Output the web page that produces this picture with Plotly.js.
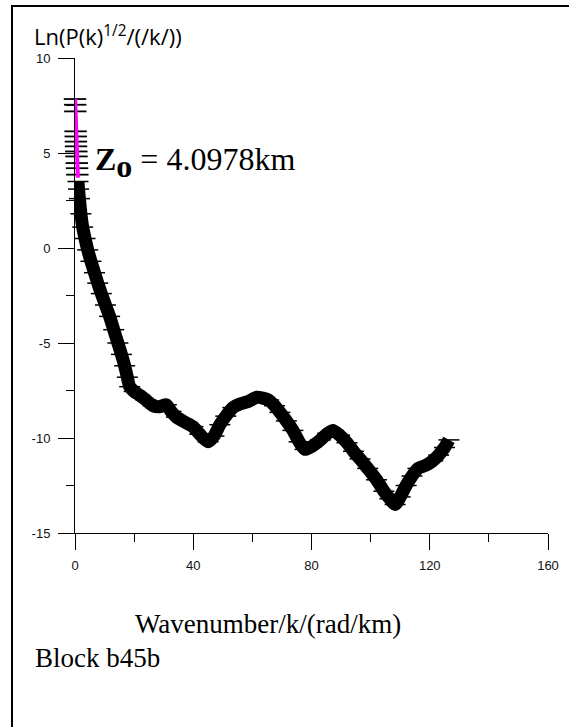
<!DOCTYPE html>
<html>
<head>
<meta charset="utf-8">
<script src="https://cdn.plot.ly/plotly-3.0.1.min.js"></script>
<style>html,body{margin:0;padding:0;background:#fff;}#chart{width:569px;height:727px;}</style>
</head>
<body>
<div id="chart"></div>
<script>
// Sparse points near k = 0 (drawn as horizontal dashes)
const kSparse = [0.0, 0.05, 0.1, 0.2, 0.25, 0.3, 0.35, 0.45, 0.5, 0.6, 0.7, 0.8];
const lnSparse = [7.84, 7.54, 7.19, 6.14, 5.87, 5.6, 5.35, 5.08, 4.82, 4.47, 4.2, 3.86];

// Main spectrum curve (wavenumber k, ln(P(k)^1/2/|k|))
const kMain = [1.0, 1.2, 1.5, 2.0, 2.6, 3.4, 4.3, 5.4, 6.6, 7.7, 8.9, 10.3, 11.7, 13.1, 14.5, 15.7, 16.8, 17.7, 18.5,
  20.0, 21.9, 24.0, 26.4, 28.5, 30.9, 32.5, 34.3, 37.0, 39.9, 42.2, 45.0, 47.0, 49.0, 51.0, 53.4, 56.0, 59.0, 61.5,
  63.5, 65.5, 67.5, 69.3, 71.5, 73.7, 75.8, 77.8, 80.0, 83.0, 85.5, 87.3, 89.5, 92.0, 94.2, 96.4, 99.0, 102.0,
  104.5, 106.5, 108.3, 110.0, 112.0, 114.0, 116.0, 118.5, 121.0, 123.0, 125.0, 126.5];
const lnMain = [3.5, 3.1, 2.6, 1.8, 1.1, 0.5, -0.1, -0.7, -1.3, -1.85, -2.4, -3.0, -3.6, -4.3, -5.0, -5.6, -6.2, -6.8, -7.3,
  -7.55, -7.75, -8.0, -8.3, -8.35, -8.25, -8.6, -8.9, -9.15, -9.4, -9.8, -10.2, -9.9, -9.3, -8.85, -8.4, -8.2, -8.05, -7.85,
  -7.9, -8.0, -8.3, -8.65, -9.1, -9.6, -10.2, -10.6, -10.45, -10.1, -9.75, -9.6, -9.85, -10.25, -10.7, -11.1, -11.6, -12.2,
  -12.8, -13.2, -13.5, -13.1, -12.5, -12.0, -11.6, -11.45, -11.2, -10.9, -10.5, -10.1];

// Fitted line for depth estimate
const kFit = [0.05, 0.98];
const lnFit = [7.85, 3.7];

const xTicks = [0, 40, 80, 120, 160];
const yTicks = [-15, -10, -5, 0, 5, 10];

const traces = [
  {x: kMain, y: lnMain, type: 'scatter', mode: 'lines+markers', cliponaxis: false,
   line: {color: '#000', width: 13, shape: 'spline', smoothing: 0.6},
   marker: {symbol: 'line-ew', size: 15, line: {color: '#000', width: 1.5}}, hoverinfo: 'skip'},
  {x: kSparse, y: lnSparse, type: 'scatter', mode: 'markers', cliponaxis: false,
   marker: {symbol: 'line-ew', size: 16, line: {color: '#000', width: 1.8}}, hoverinfo: 'skip'},
  {x: kFit, y: lnFit, type: 'scatter', mode: 'lines', cliponaxis: false,
   line: {color: '#ff00ff', width: 4}, hoverinfo: 'skip'}
];

const px = v => (v - 75) / 473;
const py = v => (533 - v) / 475;

const layout = {
  width: 569, height: 727,
  margin: {l: 75, r: 21, t: 58, b: 194},
  paper_bgcolor: '#fff', plot_bgcolor: '#fff',
  showlegend: false,
  xaxis: {range: [0, 160], tickvals: xTicks, ticktext: xTicks.map(String),
    showgrid: false, zeroline: false, showline: true, linecolor: '#000', linewidth: 1,
    ticks: 'outside', ticklen: 16, tickcolor: '#000', tickwidth: 1, ticklabelstandoff: 4,
    minor: {dtick: 20, ticks: 'outside', ticklen: 8, tickcolor: '#000', tickwidth: 1, showgrid: false},
    tickfont: {family: 'Liberation Sans, Arial, sans-serif', size: 13, color: '#111'}, fixedrange: true},
  yaxis: {range: [-15, 10], tickvals: yTicks, ticktext: yTicks.map(String),
    showgrid: false, zeroline: false, showline: true, linecolor: '#000', linewidth: 1,
    ticks: 'outside', ticklen: 16, tickcolor: '#000', tickwidth: 1, ticklabelstandoff: 5,
    minor: {dtick: 2.5, ticks: 'outside', ticklen: 8, tickcolor: '#000', tickwidth: 1, showgrid: false},
    tickfont: {family: 'Liberation Sans, Arial, sans-serif', size: 13, color: '#111'}, fixedrange: true},
  shapes: [
    {type: 'rect', xref: 'paper', yref: 'paper', x0: px(12), x1: px(600), y0: py(800), y1: py(6),
     line: {color: '#000', width: 2}, fillcolor: 'rgba(0,0,0,0)', layer: 'above'}
  ],
  annotations: [
    {xref: 'paper', yref: 'paper', x: px(32), y: py(35), xanchor: 'left', yanchor: 'middle', showarrow: false,
     text: 'Ln(P(k)<sup>1/2</sup>/(/k/))', font: {family: 'Open Sans, Lato, sans-serif', size: 22, color: '#000'}},
    {xref: 'paper', yref: 'paper', x: px(93), y: py(162), xanchor: 'left', yanchor: 'middle', showarrow: false,
     text: '<b>Z<sub><span style="font-size:32px">o</span></sub></b> = 4.0978km',
     font: {family: 'Liberation Serif, Times New Roman, serif', size: 32, color: '#000'}},
    {xref: 'paper', yref: 'paper', x: px(268), y: py(624), xanchor: 'center', yanchor: 'middle', showarrow: false,
     text: 'Wavenumber/k/(rad/km)', font: {family: 'Liberation Serif, Times New Roman, serif', size: 27, color: '#000'}},
    {xref: 'paper', yref: 'paper', x: px(33), y: py(658), xanchor: 'left', yanchor: 'middle', showarrow: false,
     text: 'Block b45b', font: {family: 'Liberation Serif, Times New Roman, serif', size: 27, color: '#000'}}
  ]
};

Plotly.newPlot('chart', traces, layout, {displayModeBar: false, staticPlot: true});
</script>
</body>
</html>
